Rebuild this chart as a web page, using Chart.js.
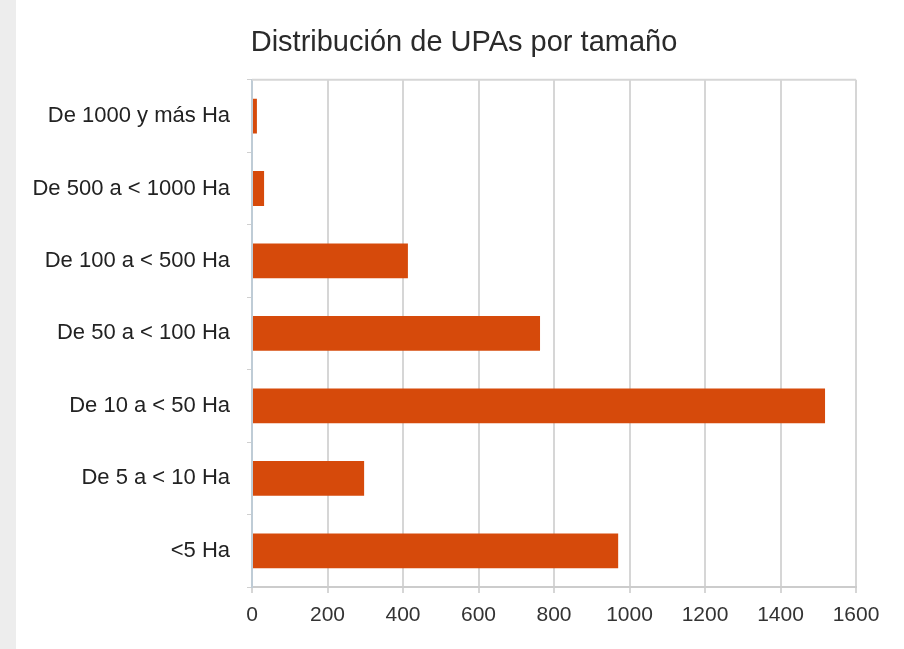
<!DOCTYPE html>
<html>
<head>
<meta charset="utf-8">
<script src="https://cdn.jsdelivr.net/npm/chart.js@4/dist/chart.umd.min.js"></script>
<style>
  html, body { margin: 0; padding: 0; }
  body { background: linear-gradient(to right, #ededed 0, #ededed 16px, #ffffff 16px); }
  #wrap { width: 904px; height: 649px; position: relative; }
</style>
</head>
<body>
<div id="wrap"><canvas id="upaChart" width="904" height="649"></canvas></div>
<script>
const categorias = ['De 1000 y más Ha', 'De 500 a < 1000 Ha', 'De 100 a < 500 Ha', 'De 50 a < 100 Ha', 'De 10 a < 50 Ha', 'De 5 a < 10 Ha', '<5 Ha'];
const upas = [13, 32, 413, 763, 1518, 297, 970];
const ejeX = { min: 0, max: 1600, paso: 200 };

// borde superior del área del gráfico (Chart.js no lo dibuja solo)
const bordeArriba = {
    id: 'bordeArriba',
    afterLayout(chart) {
        // que las etiquetas largas del eje Y no se recorten
        chart.scales.y.left = 0;
    },
    afterDraw(chart) {
        const a = chart.chartArea;
        const ctx = chart.ctx;
        ctx.save();
        ctx.strokeStyle = '#d6d6d6';
        ctx.lineWidth = 2;
        ctx.beginPath();
        ctx.moveTo(a.left, a.top);
        ctx.lineTo(a.right, a.top);
        ctx.stroke();
        ctx.restore();
    }
};

function initChart() {
    const ctx = document.getElementById('upaChart');
    new Chart(ctx, {
        type: 'bar',
        data: {
            labels: categorias,
            datasets: [{
                data: upas,
                backgroundColor: '#d64a0b',
                borderWidth: 0,
                barPercentage: 0.48,
                categoryPercentage: 1
            }]
        },
        options: {
            indexAxis: 'y',
            responsive: false,
            animation: false,
            layout: { padding: { left: 72, right: 48, top: 0, bottom: 0 } },
            scales: {
                x: {
                    min: ejeX.min,
                    max: ejeX.max,
                    ticks: {
                        stepSize: ejeX.paso,
                        color: '#333',
                        padding: 10,
                        font: { family: 'Liberation Sans', size: 21 },
                        callback: (v) => String(v)
                    },
                    grid: { color: '#d6d6d6', lineWidth: 2, tickLength: 6 },
                    border: { color: '#cccccc', width: 2 },
                    afterFit: (scale) => { scale.height = 62; }
                },
                y: {
                    ticks: {
                        color: '#222',
                        padding: 17,
                        font: { family: 'Liberation Sans', size: 22 }
                    },
                    grid: { drawOnChartArea: false, color: '#d0d0d0', tickLength: 5 },
                    border: { color: '#bfccd6', width: 2 },
                    afterFit: (scale) => { scale.width = 180; }
                }
            },
            plugins: {
                legend: { display: false },
                tooltip: { enabled: false },
                title: {
                    display: true,
                    text: 'Distribución de UPAs por tamaño',
                    color: '#2a2a2a',
                    font: { family: 'Liberation Sans', size: 29, weight: 'normal', lineHeight: 1.2 },
                    padding: { top: 26, bottom: 19 }
                }
            }
        },
        plugins: [bordeArriba]
    });
}
window.onload = initChart;
</script>
</body>
</html>
